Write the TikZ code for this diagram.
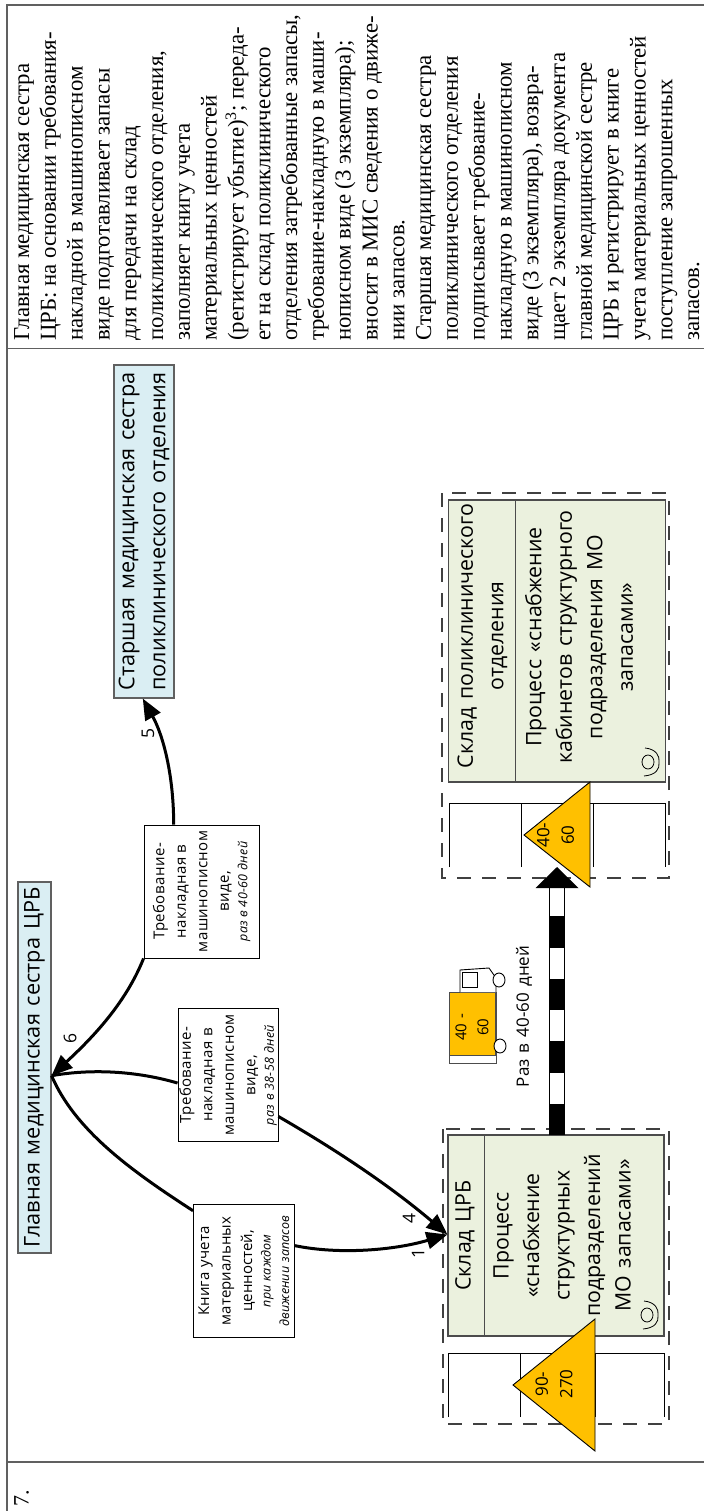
\documentclass[tikz,border=0pt]{standalone}
\usepackage{fontspec}
\setmainfont{Liberation Serif}
\newfontfamily\dia[WordSpace=1.4]{Open Sans}
\newfontfamily\diasp[LetterSpace=3]{Open Sans}
\usetikzlibrary{calc,arrows.meta,shapes.geometric}
\definecolor{framegray}{HTML}{606060}
\definecolor{bluefill}{HTML}{DAEEF3}
\definecolor{greenfill}{HTML}{EBF1DE}
\definecolor{invyellow}{HTML}{FFC000}
\tikzset{
  framel/.style={draw=framegray,line width=1.2pt},
  roletext/.style={rotate=90,draw=framegray,line width=1.1pt,fill=bluefill,align=center,inner sep=0pt,font=\dia\fontsize{21.7}{31}\selectfont},
  docbox/.style={rotate=90,draw=black,line width=.9pt,fill=white,align=center,inner sep=0pt,minimum width=133pt,font=\diasp\fontsize{15}{21.5}\selectfont},
  procbox/.style={rotate=90,draw=black!70,line width=1.1pt,fill=greenfill,inner sep=0pt},
  proctext/.style={rotate=90,align=center,inner sep=0pt,font=\dia\fontsize{21.3}{30.5}\selectfont},
  dashbox/.style={rotate=90,draw=black!75,line width=1.2pt,dash pattern=on 14pt off 11pt,inner sep=0pt},
  invtri/.style={draw=black,line width=.9pt,fill=invyellow},
  datal/.style={draw=black,line width=1pt},
  invtext/.style={rotate=90,align=center,inner sep=0pt,font=\dia\fontsize{17}{24.5}\selectfont},
  numtext/.style={rotate=90,inner sep=0pt,font=\dia\fontsize{17.5}{20}\selectfont},
  flow/.style={draw=black,line width=3pt},
  flowtip/.style={flow,-{Triangle[length=21pt,width=17pt]}},
  opsym/.style={draw=black,line width=.8pt},
}
\begin{document}
\begin{tikzpicture}[x=1pt,y=-1pt]
\useasboundingbox (0,0) rectangle (704,1511);
\fill[white] (0,0) rectangle (704,1511);
% frame
\coordinate (fTL) at (7,5);
\coordinate (fBL) at (7,1511);
\coordinate (fTR) at (704,5);
\draw[framel] (fBL) -- (fTL) -- (fTR);
\coordinate (m1L) at (7,348.5);
\coordinate (m1R) at (704,348.5);
\coordinate (m2L) at (7,1462);
\coordinate (m2R) at (704,1462);
\draw[framel] (m1L) -- (m1R);
\draw[framel] (m2L) -- (m2R);
% right-hand text
\node[rotate=90,anchor=north west,align=left,inner sep=0pt,font=\fontsize{22.8}{26.8}\selectfont] (desc) at (14,341) {%
Главная медицинская сестра\\
ЦРБ: на основании требования-\\
накладной в машинописном\\
виде подготавливает запасы\\
для передачи на склад\\
поликлинического отделения,\\
заполняет книгу учета\\
материальных ценностей\\
(регистрирует убытие)\textsuperscript{3}; переда-\\
ет на склад поликлинического\\
отделения затребованные запасы,\\
требование-накладную в маши-\\
нописном виде (3 экземпляра);\\
вносит в МИС сведения о движе-\\
нии запасов.\\
Старшая медицинская сестра\\
поликлинического отделения\\
подписывает требование-\\
накладную в машинописном\\
виде (3 экземпляра), возвра-\\
щает 2 экземпляра документа\\
главной медицинской сестре\\
ЦРБ и регистрирует в книге\\
учета материальных ценностей\\
поступление запрошенных\\
запасов.};
\node[rotate=90,anchor=north west,inner sep=0pt,font=\fontsize{22}{24}\selectfont] (num) at (14,1507) {7.};
% roles
\node[roletext,minimum width=371pt,minimum height=33pt] (glav) at (34.5,1067.5) {Главная медицинская сестра ЦРБ};
\node[roletext,minimum width=333pt,minimum height=60pt] (star) at (144,531.5) {Старшая медицинская сестра\\поликлинического отделения};
% documents
\node[docbox,minimum height=115pt] (doc1) at (201.5,891.5) {Требование-\\накладная в\\машинописном\\виде,\\[-3pt]{\fontsize{12.5}{17}\selectfont\itshape раз в 40-60 дней}};
\node[docbox,minimum height=100pt] (doc2) at (228,1075) {Требование-\\накладная в\\машинописном\\виде,\\[-3pt]{\fontsize{12.5}{17}\selectfont\itshape раз в 38-58 дней}};
\node[docbox,minimum height=100.5pt,font=\dia\fontsize{15}{21.5}\selectfont] (doc3) at (243.75,1271) {Книга учета\\материальных\\ценностей,\\[-3pt]{\fontsize{12.5}{17}\selectfont\itshape при каждом}\\[-3pt]{\fontsize{12.5}{17}\selectfont\itshape движении запасов}};
% left group
\node[dashbox,minimum width=295pt,minimum height=226pt] (grpA) at (556,1276.5) {};
\node[procbox,minimum width=201pt,minimum height=216pt] (procA) at (556,1235.5) {};
\coordinate (divAt) at (484,1135);
\coordinate (divAb) at (484,1336);
\draw[draw=black!70,line width=1pt] (divAt) -- (divAb);
\node[proctext] (titleA) at (465,1235.5) {Склад ЦРБ};
\node[proctext] (bodyA) at (562,1235.5) {Процесс\\«снабжение\\структурных\\подразделений\\МО запасами»};
% right group
\node[dashbox,minimum width=385pt,minimum height=227pt] (grpB) at (555.5,685.5) {};
\node[procbox,minimum width=282pt,minimum height=216.5pt] (procB) at (557,641) {};
\coordinate (divBt) at (515,500);
\coordinate (divBb) at (515,782);
\draw[draw=black!70,line width=1pt] (divBt) -- (divBb);
\node[proctext] (titleB) at (482.5,636) {Склад поликлинического\\отделения};
\node[proctext] (bodyB) at (579,637) {Процесс «снабжение\\кабинетов структурного\\подразделения МО\\запасами»};
% operator symbols
\coordinate (opA) at (647,1315);
\coordinate (opB) at (648,762);
\foreach \p in {opA,opB}{
  \draw[opsym] (\p) ellipse (6pt and 7pt);
  \draw[opsym] ($(\p)+(-3,-14)$) .. controls ($(\p)+(8,-13)$) and ($(\p)+(12,-6)$) .. ($(\p)+(11,0)$) .. controls ($(\p)+(12,7)$) and ($(\p)+(8,13)$) .. ($(\p)+(-4,14)$);
}
% data columns
\coordinate (dAa) at (448,1417); \coordinate (dAat) at (448,1353.5);
\coordinate (dAb) at (520,1417); \coordinate (dAbt) at (520,1353.5);
\coordinate (dAc) at (595,1417); \coordinate (dAct) at (595,1353.5);
\coordinate (dAd) at (664,1417); \coordinate (dAdt) at (664,1353.5);
\draw[datal] (dAa) -- (dAat) -- (dAdt) -- (dAd);
\draw[datal] (dAb) -- (dAbt);
\draw[datal] (dAc) -- (dAct);
\coordinate (dBa) at (449,867); \coordinate (dBat) at (449,803);
\coordinate (dBb) at (521,867); \coordinate (dBbt) at (521,803);
\coordinate (dBc) at (593,867); \coordinate (dBct) at (593,803);
\coordinate (dBd) at (665,867); \coordinate (dBdt) at (665,803);
\draw[datal] (dBa) -- (dBat) -- (dBdt) -- (dBd);
\draw[datal] (dBb) -- (dBbt);
\draw[datal] (dBc) -- (dBct);
% inventory triangles
\coordinate (tAa) at (513,1385); \coordinate (tAb) at (595,1319); \coordinate (tAc) at (595,1451);
\draw[invtri] (tAa) -- (tAb) -- (tAc) -- cycle;
\node[invtext] (tAt) at (554,1384) {90-\\270};
\coordinate (tBa) at (524,835); \coordinate (tBb) at (590,782); \coordinate (tBc) at (590,887);
\draw[invtri] (tBa) -- (tBb) -- (tBc) -- cycle;
\node[invtext] (tBt) at (555.5,835) {40-\\60};
% push arrow
\coordinate (pushS) at (557,1135);
\coordinate (pushE) at (557,888);
\coordinate (pushT) at (557,867);
\coordinate (pushHl) at (535.5,888);
\coordinate (pushHr) at (578.5,888);
\draw[draw=black,line width=16pt] (pushS) -- (pushE);
\draw[draw=white,line width=13.5pt] (pushS) -- (pushE);
\draw[draw=black,line width=16pt,dash pattern=on 31.5pt off 31pt] (pushS) -- (pushE);
\fill[black] (pushT) -- (pushHl) -- (pushHr) -- cycle;
\node[rotate=90,inner sep=0pt,font=\dia\fontsize{17}{20}\selectfont] (pushL) at (524,1016.5) {Раз в 40-60 дней};
% truck
\node[rotate=90,draw=black!70,line width=.9pt,fill=white,inner sep=0pt,minimum width=71pt,minimum height=47pt] (trkBase) at (472.5,1027.5) {};
\node[rotate=90,draw=black!70,line width=.9pt,fill=invyellow,inner sep=0pt,minimum width=63pt,minimum height=46pt] (trkBody) at (472,1023.5) {};
\coordinate (cabA) at (460,992); \coordinate (cabB) at (460,970); \coordinate (cabC) at (489,968); \coordinate (cabD) at (496,978); \coordinate (cabE) at (496,992);
\draw[black,line width=.9pt,fill=white] (cabA) -- (cabB) -- (cabC) -- (cabD) -- (cabE);
\node[draw=black,line width=.9pt,inner sep=0pt,minimum width=15pt,minimum height=15pt] (trkWin) at (470,980) {};
\node[ellipse,draw=black,fill=white,line width=.9pt,inner sep=0pt,minimum width=12pt,minimum height=14pt] (wheelA) at (499,980) {};
\node[ellipse,draw=black,fill=white,line width=.9pt,inner sep=0pt,minimum width=12pt,minimum height=14pt] (wheelB) at (500,1046) {};
\node[rotate=90,align=center,inner sep=0pt,font=\dia\fontsize{15}{22}\selectfont] (trkT) at (472,1027) {40 -\\60};
% flows
\draw[flowtip] ($(doc1.north east)!0.26!(doc1.south east)$) .. controls +(0,-50) and (163,735) .. ($(star.north west)!0.48!(star.south west)$);
\coordinate (hub) at ($(glav.south west)!0.478!(glav.south east)$);
\draw[flowtip] (doc1.north west) .. controls (125,1005) and (90,1040) .. (hub);
\draw[flow] (hub) .. controls (95,1068) and (140,1072) .. ($(doc2.north west)!0.44!(doc2.north east)$);
\draw[flow] (hub) .. controls (75,1130) and (130,1170) .. ($(doc3.north west)!0.95!(doc3.north east)$);
\coordinate (inA) at ($(procA.north west)!0.505!(procA.north east)$);
\draw[flowtip] ($(doc2.south west)!0.19!(doc2.south east)$) .. controls (345,1155) and (395,1190) .. (inA);
\draw[flowtip] ($(doc3.south west)!0.69!(doc3.south east)$) .. controls (340,1255) and (395,1250) .. (inA);
\node[numtext] (n5) at (148,733) {5};
\node[numtext] (n6) at (70,1038) {6};
\node[numtext] (n4) at (409,1218) {4};
\node[numtext] (n1) at (418,1253) {1};
\end{tikzpicture}
\end{document}
